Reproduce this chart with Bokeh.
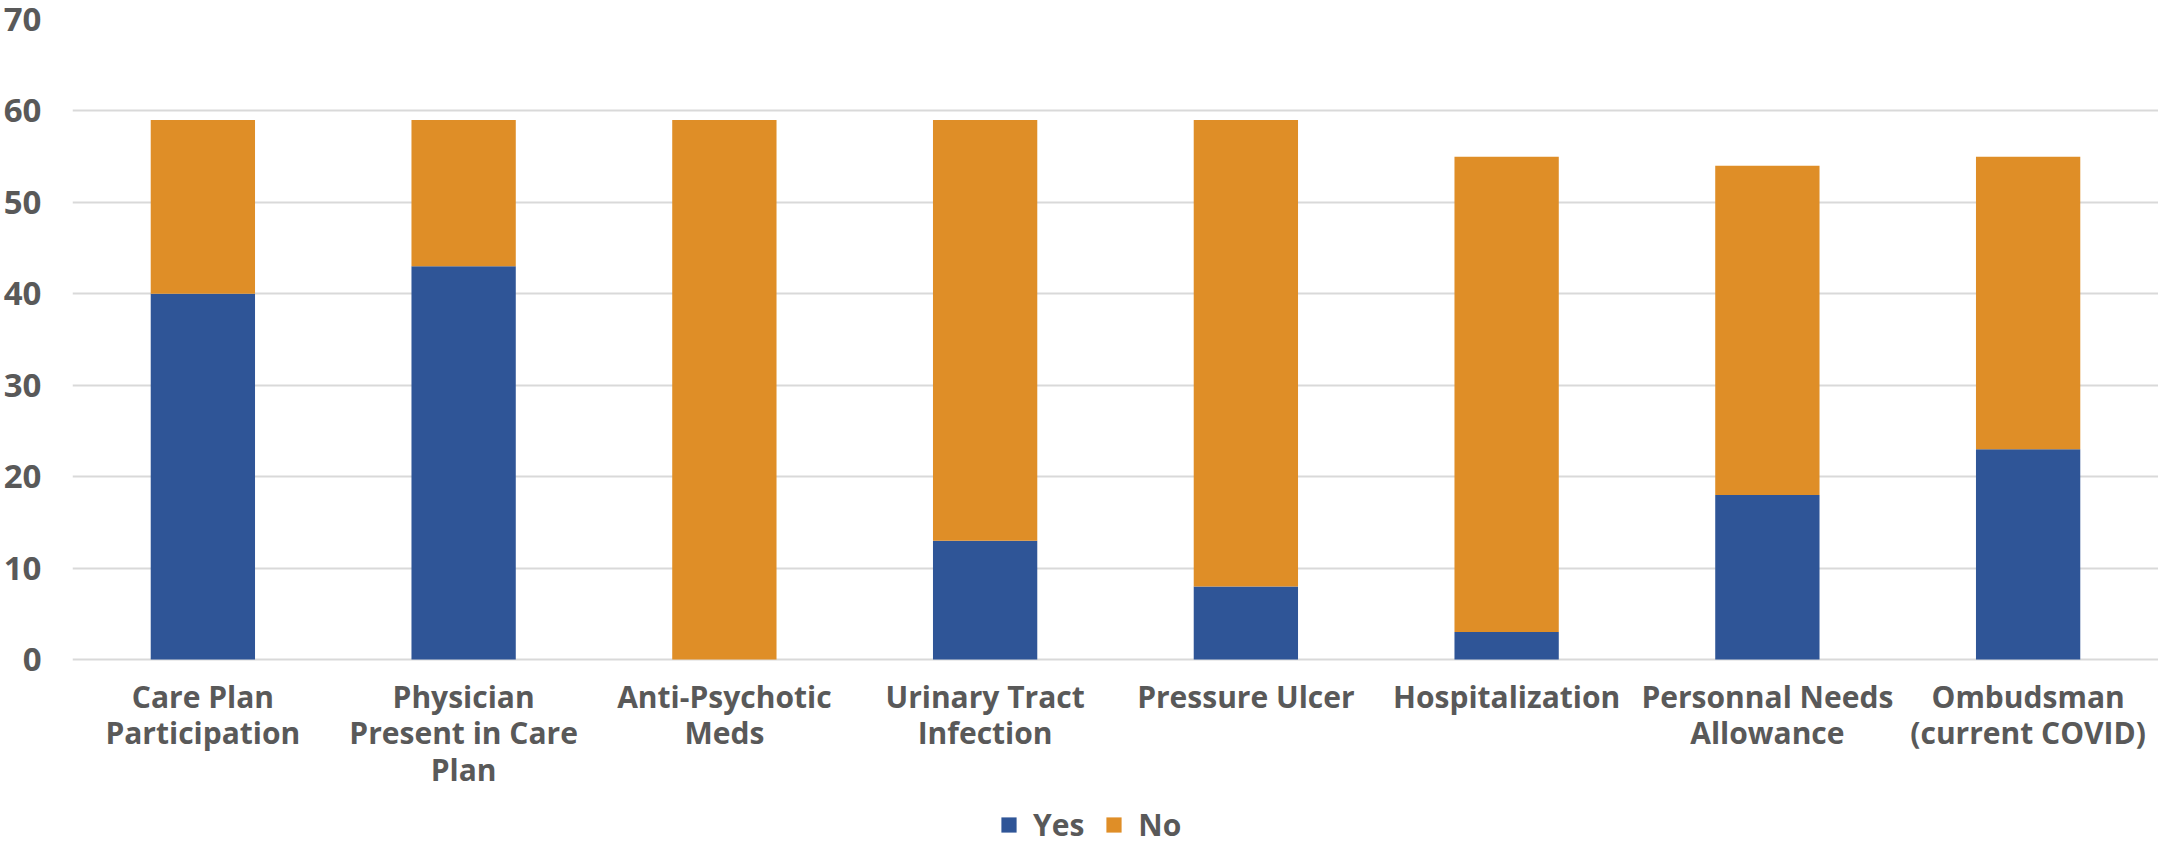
from bokeh.plotting import figure
from bokeh.models import ColumnDataSource, FactorRange, Legend, LegendItem, FixedTicker, Range1d
from bokeh.embed import file_html
from bokeh.resources import INLINE

categories = [
    "Care Plan\nParticipation",
    "Physician\nPresent in Care\nPlan",
    "Anti-Psychotic\nMeds",
    "Urinary Tract\nInfection",
    "Pressure Ulcer",
    "Hospitalization",
    "Personnal Needs\nAllowance",
    "Ombudsman\n(current COVID)",
]
yes_values = [40, 43, 0, 13, 8, 3, 18, 23]
no_values = [19, 16, 59, 46, 51, 52, 36, 32]
series = ["Yes", "No"]
colors = ["#2F5597", "#DF8E27"]
y_ticks = [0, 10, 20, 30, 40, 50, 60, 70]

source = ColumnDataSource(data=dict(cat=categories, Yes=yes_values, No=no_values))

FONT = "Open Sans"
TEXT = "#595959"

# frame extends below zero so that category labels and legend sit inside the view
p = figure(
    x_range=FactorRange(*categories, range_padding=0),
    y_range=Range1d(-20.34, 70),
    frame_width=2086, frame_height=826,
    output_backend="svg", toolbar_location=None,
    min_border_left=68, min_border_right=0, min_border_top=19, min_border_bottom=0,
)
p.outline_line_color = None

rs = p.vbar_stack(series, x="cat", width=0.4, color=colors, source=source, line_color=None)

p.xgrid.grid_line_color = None
p.ygrid.grid_line_color = "#D9D9D9"
p.ygrid.grid_line_width = 2
p.yaxis.ticker = FixedTicker(ticks=y_ticks)

for ax in (p.xaxis, p.yaxis):
    ax.axis_line_color = None
    ax.major_tick_line_color = None
    ax.minor_tick_line_color = None
    ax.major_label_text_font = FONT
    ax.major_label_text_font_style = "bold"
    ax.major_label_text_color = TEXT

p.xaxis.fixed_location = 0
p.xaxis.major_label_text_font_size = "30px"
p.xaxis.major_label_text_line_height = 0.9
p.yaxis.major_label_text_font_size = "33px"
p.yaxis.major_label_standoff = 25
p.xaxis.major_label_standoff = 10

legend = Legend(
    items=[LegendItem(label=s, renderers=[r]) for s, r in zip(series, rs)],
    orientation="horizontal",
    location=(927, 0),
    label_text_font=FONT,
    label_text_font_style="bold",
    label_text_font_size="30px",
    label_text_color=TEXT,
    glyph_width=19, glyph_height=19,
    label_standoff=15, spacing=20,
    border_line_color=None,
    background_fill_alpha=0,
    margin=0, padding=0,
)
p.add_layout(legend, "center")

open("out.html", "w").write(file_html(p, INLINE))
